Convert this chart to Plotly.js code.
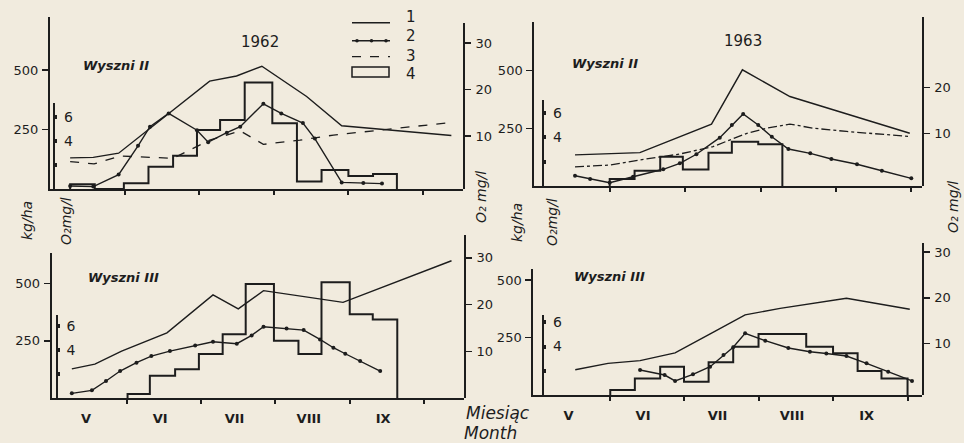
<!DOCTYPE html>
<html><head><meta charset="utf-8">
<script src="https://cdn.plot.ly/plotly-3.0.1.min.js"></script>
<style>html,body{margin:0;padding:0;background:#f1ebde;}#chart{width:964px;height:443px;}</style>
</head><body><div id="chart"></div>
<script>
// ---------- labels ----------
const months = ['V', 'VI', 'VII', 'VIII', 'IX'];
const monthBoundaries = [1, 2, 3, 4, 5];
const kgTicks = [250, 500];
const innerLabelledTicks = [4, 6];
const innerDotTicks = [2];
const legendLabels = ['1', '2', '3', '4'];
const panelTitles = ['Wyszni II', 'Wyszni II', 'Wyszni III', 'Wyszni III'];
const years = ['1962', '1963'];

// ---------- 1962, Wyszni II (x in months from 1 May) ----------
const a_line1_x = [0.27, 0.58, 0.92, 2.14, 2.50, 2.84, 3.44, 3.91, 5.38];
const a_line1 = [5.3, 5.4, 6.3, 21.8, 22.9, 25.0, 18.5, 12.2, 10.1];
const a_line2_x = [0.27, 0.58, 0.92, 1.18, 1.34, 1.59, 1.97, 2.12, 2.37, 2.55, 2.86, 3.10, 3.39, 3.55, 3.91, 4.20, 4.45];
const a_line2 = [0.25, 0.2, 1.2, 3.6, 5.2, 6.3, 4.9, 3.9, 4.7, 5.2, 7.1, 6.3, 5.5, 4.2, 0.55, 0.5, 0.45];
const a_line3_x = [0.27, 0.59, 0.94, 1.65, 2.14, 2.55, 2.86, 3.35, 3.80, 4.47, 5.38];
const a_line3 = [4.5, 4.0, 5.7, 5.2, 9.1, 11.1, 8.2, 9.1, 10.2, 11.3, 12.9];
const a_bar_edges = [0.27, 0.60, 0.99, 1.32, 1.65, 1.97, 2.28, 2.61, 2.98, 3.31, 3.64, 4.00, 4.33, 4.65];
const a_bar = [20, 0, 24, 94, 140, 248, 290, 448, 276, 31, 80, 55, 63];

// ---------- 1963, Wyszni II ----------
const b_line1_x = [0.54, 1.40, 2.35, 2.76, 3.39, 4.98];
const b_line1 = [5.3, 5.8, 12.0, 23.8, 18.0, 10.0];
const b_line2_x = [0.54, 0.74, 1.0, 1.31, 1.71, 1.93, 2.15, 2.46, 2.62, 2.77, 2.97, 3.15, 3.37, 3.66, 3.94, 4.28, 4.61, 5.0];
const b_line2 = [0.84, 0.57, 0.27, 0.76, 1.37, 1.86, 2.6, 3.96, 5.0, 5.9, 5.0, 4.04, 3.03, 2.68, 2.21, 1.78, 1.25, 0.63];
const b_line3_x = [0.54, 1.0, 1.40, 1.93, 2.37, 2.82, 3.08, 3.39, 3.70, 4.14, 4.98];
const b_line3 = [2.7, 3.1, 4.2, 5.5, 7.1, 10.0, 11.1, 12.0, 11.1, 10.4, 9.3];
const b_bar_edges = [1.0, 1.33, 1.67, 1.97, 2.31, 2.62, 2.97, 3.29];
const b_bar = [30, 66, 127, 72, 144, 192, 181];

// ---------- 1962, Wyszni III ----------
const c_line1_x = [0.26, 0.57, 0.93, 1.54, 2.16, 2.50, 2.84, 3.91, 5.37];
const c_line1 = [6.3, 7.3, 10.1, 14.0, 22.1, 19.1, 23.0, 20.5, 29.4];
const c_line2_x = [0.26, 0.53, 0.72, 0.91, 1.13, 1.33, 1.58, 1.92, 2.16, 2.48, 2.68, 2.84, 3.15, 3.38, 3.60, 3.78, 3.94, 4.14, 4.41];
const c_line2 = [0.41, 0.66, 1.43, 2.26, 2.95, 3.5, 3.91, 4.38, 4.68, 4.52, 5.21, 5.93, 5.79, 5.65, 4.88, 4.19, 3.69, 3.08, 2.26];
const c_bar_edges = [1.01, 1.31, 1.65, 1.97, 2.29, 2.60, 2.98, 3.31, 3.62, 4.0, 4.31, 4.64];
const c_bar = [19, 98, 126, 193, 278, 497, 250, 193, 504, 365, 343];

// ---------- 1963, Wyszni III ----------
const d_line1_x = [0.54, 0.98, 1.41, 1.88, 2.37, 2.82, 3.29, 4.18, 5.03];
const d_line1 = [4.3, 5.7, 6.3, 8.0, 12.3, 16.3, 17.7, 19.9, 17.5];
const d_line2_x = [1.41, 1.74, 1.88, 2.12, 2.35, 2.53, 2.66, 2.82, 3.09, 3.40, 3.69, 3.91, 4.18, 4.45, 4.74, 5.06];
const d_line2 = [2.07, 1.65, 1.16, 1.71, 2.34, 3.31, 3.95, 5.1, 4.49, 3.88, 3.57, 3.43, 3.22, 2.62, 1.92, 1.16];
const d_bar_edges = [1.01, 1.34, 1.68, 2.0, 2.33, 2.66, 3.0, 3.33, 3.64, 4.0, 4.33, 4.65, 5.0];
const d_bar = [22, 72, 123, 58, 142, 210, 265, 265, 210, 181, 104, 72];

const panelData = [
  {l1x: a_line1_x, l1: a_line1, l2x: a_line2_x, l2: a_line2, l3x: a_line3_x, l3: a_line3, be: a_bar_edges, b: a_bar},
  {l1x: b_line1_x, l1: b_line1, l2x: b_line2_x, l2: b_line2, l3x: b_line3_x, l3: b_line3, be: b_bar_edges, b: b_bar},
  {l1x: c_line1_x, l1: c_line1, l2x: c_line2_x, l2: c_line2, be: c_bar_edges, b: c_bar},
  {l1x: d_line1_x, l1: d_line1, l2x: d_line2_x, l2: d_line2, be: d_bar_edges, b: d_bar}
];

// ---------- geometry (pixels) ----------
const W = 964, H = 443;
const INK = '#1d1d1d';
const BG = '#f1ebde';
const FONT = 'DejaVu Sans';
const geo = [
  {xL: 50, xR: 463, base: 189, leftTop: 17, innerX: 54.3, innerTop: 103, rightTop: 23,
   xr: [0, 5.536], kr: [0, 722.7], ir: [0, 7.17], rr: [-1.4, 34.3], rt: [10, 20, 30], bottom: false, dash: 'dash'},
  {xL: 534.3, xR: 921.7, base: 186, leftTop: 21.7, innerX: 543.3, innerTop: 100, rightTop: 16.7,
   xr: [0, 5.138], kr: [0, 711.9], ir: [0, 7.05], rr: [-1.46, 35.35], rt: [10, 20], bottom: false, dash: 'dashdot'},
  {xL: 51.7, xR: 464, base: 398.3, leftTop: 253.3, innerX: 56.7, innerTop: 315, rightTop: 235,
   xr: [-0.011, 5.538], kr: [0, 630.4], ir: [0, 6.9], rr: [0, 34.9], rt: [10, 20, 30], bottom: true},
  {xL: 533.3, xR: 921.7, base: 395, leftTop: 269.3, innerX: 543.3, innerTop: 315, rightTop: 243.3,
   xr: [-0.023, 5.19], kr: [0, 546.5], ir: [0, 6.61], rr: [-1.2, 31.9], rt: [10, 20, 30], bottom: true}
];
const xf = px => px / W;
const yf = py => 1 - py / H;

function stepXY(edges, heights) {
  const x = [edges[0]], y = [0];
  heights.forEach((h, i) => { x.push(edges[i]); y.push(h); });
  x.push(edges[edges.length - 1]); y.push(0);
  return {x, y};
}

const traces = [];
const layout = {
  width: W, height: H, margin: {l: 0, r: 0, t: 0, b: 0},
  paper_bgcolor: BG, plot_bgcolor: 'rgba(0,0,0,0)', showlegend: false,
  font: {family: FONT, color: INK, size: 13},
  annotations: [], shapes: []
};
const baseAxis = {showgrid: false, zeroline: false, showline: true, linecolor: INK, linewidth: 2,
  tickcolor: INK, fixedrange: true, tickfont: {family: FONT, size: 13, color: INK}};

geo.forEach((g, k) => {
  const i = k + 1;
  const xs = i === 1 ? '' : String(i);
  const yk = 3 * i - 2, yi = 3 * i - 1, yr = 3 * i;
  const ykName = yk === 1 ? '' : String(yk);
  const xAx = Object.assign({}, baseAxis, {
    domain: [xf(g.xL), xf(g.xR)], anchor: 'y' + ykName, range: g.xr
  });
  if (g.bottom) {
    Object.assign(xAx, {tickmode: 'array', tickvals: months.map((_, j) => j + 0.45), ticktext: months,
      ticks: '', ticklabelstandoff: 7, tickfont: {family: FONT, size: 13, color: INK, weight: 'bold'},
      minor: {tickmode: 'array', tickvals: monthBoundaries, ticks: 'outside', ticklen: 4, tickwidth: 2, tickcolor: INK, showgrid: false}});
  } else {
    Object.assign(xAx, {tickmode: 'array', tickvals: monthBoundaries, ticks: 'outside', ticklen: 4, tickwidth: 2, showticklabels: false});
  }
  layout['xaxis' + xs] = xAx;
  layout['yaxis' + ykName] = Object.assign({}, baseAxis, {
    domain: [yf(g.base), yf(g.leftTop)], anchor: 'x' + xs, range: g.kr,
    tickmode: 'array', tickvals: kgTicks, ticks: 'outside', ticklen: 6, tickwidth: 1.5, ticklabelstandoff: 1
  });
  layout['yaxis' + yi] = Object.assign({}, baseAxis, {
    domain: [yf(g.base), yf(g.innerTop)], anchor: 'free', position: xf(g.innerX), side: 'right', range: g.ir,
    tickmode: 'array', tickvals: innerLabelledTicks, ticks: 'outside', ticklen: 2, tickwidth: 4,
    ticklabelstandoff: 4, tickfont: {family: FONT, size: 14, color: INK},
    minor: {tickmode: 'array', tickvals: innerDotTicks, ticks: 'outside', ticklen: 2, tickwidth: 4, tickcolor: INK, showgrid: false}
  });
  layout['yaxis' + yr] = Object.assign({}, baseAxis, {
    domain: [yf(g.base), yf(g.rightTop)], anchor: 'x' + xs, side: 'right', range: g.rr,
    tickmode: 'array', tickvals: g.rt, ticks: 'outside', ticklen: 6, tickwidth: 1.5, ticklabelstandoff: 2
  });

  const d = panelData[k];
  const xa = 'x' + xs;
  traces.push({x: d.l1x, y: d.l1, xaxis: xa, yaxis: 'y' + yr, mode: 'lines', cliponaxis: false,
    line: {color: INK, width: 1.4}, hoverinfo: 'skip'});
  traces.push({x: d.l2x, y: d.l2, xaxis: xa, yaxis: 'y' + yi, mode: 'lines+markers', cliponaxis: false,
    line: {color: INK, width: 1.4}, marker: {color: INK, size: 4}, hoverinfo: 'skip'});
  if (d.l3x) {
    traces.push({x: d.l3x, y: d.l3, xaxis: xa, yaxis: 'y' + yr, mode: 'lines', cliponaxis: false,
      line: {color: INK, width: 1.3, dash: g.dash}, hoverinfo: 'skip'});
  }
  const st = stepXY(d.be, d.b);
  traces.push({x: st.x, y: st.y, xaxis: xa, yaxis: 'y' + ykName, mode: 'lines', cliponaxis: false,
    line: {color: INK, width: 2, shape: 'hv'}, hoverinfo: 'skip'});
});

// ---------- texts ----------
const ann = layout.annotations;
function txt(text, px, py, opt) {
  ann.push(Object.assign({text: text, x: xf(px), y: yf(py), xref: 'paper', yref: 'paper', showarrow: false,
    xanchor: 'center', yanchor: 'middle', font: {family: FONT, size: 14, color: INK}}, opt || {}));
}
txt(years[0], 260, 42, {font: {family: FONT, size: 15, color: INK}});
txt(years[1], 743, 41, {font: {family: FONT, size: 15, color: INK}});
const titlePos = [[81, 65], [570, 63], [86, 277], [572, 276]];
panelTitles.forEach((t, i) => txt(t, titlePos[i][0], titlePos[i][1],
  {xanchor: 'left', font: {family: FONT, size: 13, color: INK, style: 'italic', weight: 'bold'}}));
const it = {family: FONT, size: 14, color: INK, style: 'italic'};
txt('kg/ha', 27, 221, {textangle: -90, font: it});
txt('O₂mg/l', 66, 221, {textangle: -90, font: it});
txt('O₂ mg/l', 481, 197, {textangle: -90, font: it});
txt('kg/ha', 517, 223, {textangle: -90, font: it});
txt('O₂mg/l', 552, 222, {textangle: -90, font: it});
txt('O₂ mg/l', 953, 207, {textangle: -90, font: it});
txt('Miesiąc', 498, 413, {font: {family: FONT, size: 17, color: INK, style: 'italic'}});
txt('Month', 490, 433, {font: {family: FONT, size: 17, color: INK, style: 'italic'}});

// ---------- legend (keys) ----------
const sh = layout.shapes;
const lx0 = 352, lx1 = 390, ly = [22.7, 40.7, 56.7, 72];
sh.push({type: 'line', xref: 'paper', yref: 'paper', x0: xf(lx0), x1: xf(lx1), y0: yf(ly[0]), y1: yf(ly[0]), line: {color: INK, width: 1.4}});
sh.push({type: 'line', xref: 'paper', yref: 'paper', x0: xf(lx0), x1: xf(lx1), y0: yf(ly[1]), y1: yf(ly[1]), line: {color: INK, width: 1.4}});
[357, 371.5, 386].forEach(cx => sh.push({type: 'circle', xref: 'paper', yref: 'paper', x0: xf(cx - 1.8), x1: xf(cx + 1.8),
  y0: yf(ly[1] + 1.8), y1: yf(ly[1] - 1.8), fillcolor: INK, line: {width: 0}}));
sh.push({type: 'line', xref: 'paper', yref: 'paper', x0: xf(lx0), x1: xf(lx1), y0: yf(ly[2]), y1: yf(ly[2]), line: {color: INK, width: 1.3, dash: 'dash'}});
sh.push({type: 'rect', xref: 'paper', yref: 'paper', x0: xf(lx0), x1: xf(lx1 - 1), y0: yf(ly[3] + 5), y1: yf(ly[3] - 5), line: {color: INK, width: 1.5}});
const lblY = [17, 36, 56, 74];
legendLabels.forEach((l, i) => txt(l, 411, lblY[i], {font: {family: FONT, size: 15, color: INK}}));

Plotly.newPlot('chart', traces, layout, {staticPlot: true});
</script>
</body></html>
